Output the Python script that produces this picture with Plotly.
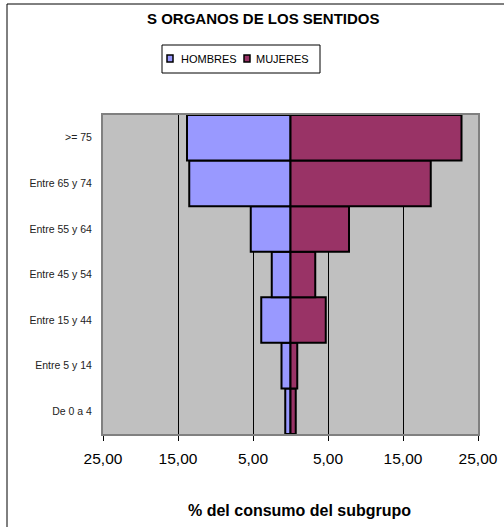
import plotly.graph_objects as go

categories = ["De 0 a 4", "Entre 5 y 14", "Entre 15 y 44", "Entre 45 y 54",
              "Entre 55 y 64", "Entre 65 y 74", ">= 75"]
hombres = [0.7, 1.2, 3.9, 2.5, 5.3, 13.5, 13.8]
mujeres = [0.7, 0.9, 4.7, 3.3, 7.8, 18.7, 22.8]
tick_vals = [-25, -15, -5, 5, 15, 25]
tick_text = ["25,00", "15,00", "5,00", "5,00", "15,00", "25,00"]
series_names = ["HOMBRES", "MUJERES"]
series_colors = ["#9999FF", "#993366"]

W, H = 504, 527
L, R, T, B = 103, 26, 115, 93
pw, ph = W - L - R, H - T - B

def px(x):
    return (x - L) / pw

def py(y):
    return (H - B - y) / ph

FONT = "Liberation Sans, Arial, sans-serif"

fig = go.Figure()
fig.add_trace(go.Bar(
    y=categories, x=[-v for v in hombres], orientation="h", name=series_names[0],
    marker=dict(color=series_colors[0], line=dict(color="black", width=2)),
))
fig.add_trace(go.Bar(
    y=categories, x=mujeres, orientation="h", name=series_names[1],
    marker=dict(color=series_colors[1], line=dict(color="black", width=2)),
))

shapes = [
    # outer chart frame
    dict(type="rect", xref="paper", yref="paper",
         x0=px(7), y0=py(700), x1=px(800), y1=py(4),
         line=dict(color="black", width=1), fillcolor="rgba(0,0,0,0)", layer="below"),
    # legend box
    dict(type="rect", xref="paper", yref="paper",
         x0=px(162), y0=py(73), x1=px(320), y1=py(45),
         line=dict(color="black", width=1), fillcolor="white"),
]
annotations = [
    dict(text="<b>S ORGANOS DE LOS SENTIDOS</b>", x=px(263), y=py(18),
         xref="paper", yref="paper", xanchor="center", yanchor="middle",
         showarrow=False, font=dict(size=15, family=FONT)),
    dict(text="<b>% del consumo del subgrupo</b>", x=px(299), y=py(510),
         xref="paper", yref="paper", xanchor="center", yanchor="middle",
         showarrow=False, font=dict(size=16, family=FONT)),
]
leg_sq_x = [167, 244]
leg_tx_x = [179, 254]
for name, col, sx, tx in zip(series_names, series_colors, leg_sq_x, leg_tx_x):
    shapes.append(dict(type="rect", xref="paper", yref="paper",
                       x0=px(sx), y0=py(62), x1=px(sx + 6), y1=py(55),
                       line=dict(color="black", width=1.5), fillcolor=col))
    annotations.append(dict(text=name, x=px(tx), y=py(59), xref="paper", yref="paper",
                            xanchor="left", yanchor="middle", showarrow=False,
                            font=dict(size=11, family=FONT)))

fig.update_layout(
    width=W, height=H,
    margin=dict(l=L, r=R, t=T, b=B, autoexpand=False),
    barmode="relative", bargap=0,
    plot_bgcolor="#C0C0C0", paper_bgcolor="white",
    font=dict(family=FONT, color="black"),
    showlegend=False,
    xaxis=dict(
        range=[-25, 25], tickvals=tick_vals, ticktext=tick_text,
        showgrid=True, gridcolor="black", gridwidth=1, zeroline=False,
        showline=True, linecolor="#808080", linewidth=2, mirror=True,
        ticks="outside", ticklen=5, tickcolor="black",
        tickfont=dict(size=15.5, family=FONT), ticklabelstandoff=4,
        fixedrange=True,
    ),
    yaxis=dict(
        categoryorder="array", categoryarray=categories,
        showgrid=False, zeroline=False,
        showline=True, linecolor="#808080", linewidth=2, mirror=True,
        ticks="", ticklabelstandoff=7,
        tickfont=dict(size=10.5, family=FONT, color="#222"),
        fixedrange=True,
    ),
    annotations=annotations,
    shapes=shapes,
)

fig.write_html(
    "out.html",
    config={"displayModeBar": False, "staticPlot": True},
    post_script="document.body.style.margin='0';document.body.style.overflow='hidden';",
)
